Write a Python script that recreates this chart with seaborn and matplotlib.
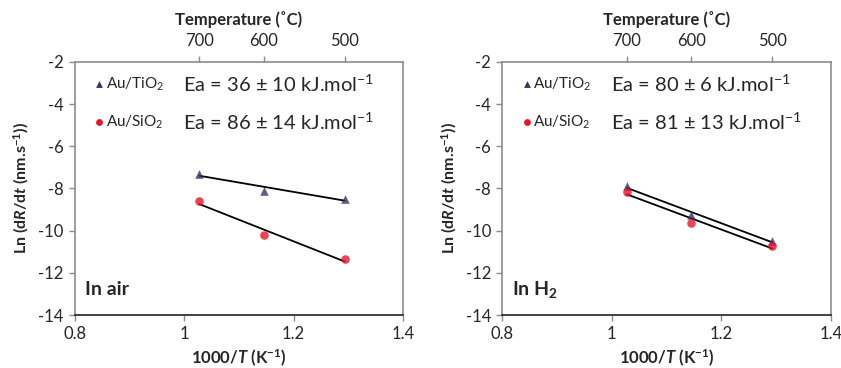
import numpy as np
import pandas as pd
import matplotlib
matplotlib.use("Agg")
import matplotlib.pyplot as plt
import seaborn as sns

# temperatures (degC) of the three measurements
temps_c = [700, 600, 500]
inv_t = [1000.0 / (t + 273.15) for t in temps_c]

# ln(dR/dt)
air_tio2 = [-7.3, -8.1, -8.5]
air_sio2 = [-8.6, -10.2, -11.35]
h2_tio2 = [-7.9, -9.25, -10.5]
h2_sio2 = [-8.15, -9.65, -10.75]

ea_air = ["Ea = 36 ± 10 kJ.mol$^{-1}$", "Ea = 86 ± 14 kJ.mol$^{-1}$"]
ea_h2 = ["Ea = 80 ± 6 kJ.mol$^{-1}$", "Ea = 81 ± 13 kJ.mol$^{-1}$"]
panel_labels = ["In air", "In H$_\\mathbf{2}$"]
series_names = ["Au/TiO$_2$", "Au/SiO$_2$"]

TRI_COLOR = "#3d2f5e"
DOT_COLOR = "#e8142a"
GRID_GRAY = "#8c8c8c"

sns.set_style("white")
plt.rcParams["font.family"] = ["Lato", "DejaVu Sans"]
plt.rcParams["axes.unicode_minus"] = False
plt.rcParams["mathtext.fontset"] = "custom"
plt.rcParams["mathtext.rm"] = "Lato"
plt.rcParams["mathtext.it"] = "Lato:italic:bold"
plt.rcParams["mathtext.bf"] = "Lato:bold"

fig = plt.figure(figsize=(8.41, 3.68), dpi=100)
ax1 = fig.add_axes([0.089, 0.144, 0.390, 0.688])
ax2 = fig.add_axes([0.597, 0.144, 0.391, 0.688])


def draw_panel(ax, tio2, sio2, ea_texts, label):
    for y, marker, color in [(tio2, "^", TRI_COLOR), (sio2, "o", DOT_COLOR)]:
        df = pd.DataFrame({"x": inv_t, "y": y})
        sns.regplot(data=df, x="x", y="y", ax=ax, ci=None, truncate=True,
                    marker=marker,
                    scatter_kws={"s": 38, "color": color, "zorder": 3, "linewidths": 0},
                    line_kws={"color": "black", "lw": 1.3, "zorder": 2})

    ax.set_xlim(0.8, 1.4)
    ax.set_ylim(-14, -2)
    ax.set_xticks([0.8, 1.0, 1.2, 1.4])
    ax.set_xticklabels(["0.8", "1", "1.2", "1.4"])
    ax.set_yticks(np.arange(-14, -1, 2))
    ax.set_xlabel("1000/$T$ (K$^\\mathbf{-1}$)", fontsize=12, fontweight="bold", labelpad=4)
    ax.set_ylabel("Ln (d$R$/d$t$ (nm.s$^\\mathbf{-1}$))", fontsize=11.5, fontweight="bold", labelpad=5)
    ax.tick_params(axis="both", labelsize=12, length=4, width=1, color=GRID_GRAY,
                   direction="out", bottom=True, left=True, pad=4)
    for side in ["left", "right", "top"]:
        ax.spines[side].set_color(GRID_GRAY)
        ax.spines[side].set_linewidth(1.2)
    ax.spines["bottom"].set_color("#222222")
    ax.spines["bottom"].set_linewidth(1.2)

    # top axis with temperatures
    top = ax.secondary_xaxis("top", functions=(lambda x: x, lambda x: x))
    top.set_xticks(inv_t)
    top.set_xticklabels([str(t) for t in temps_c])
    top.tick_params(labelsize=12, length=4, width=1, color=GRID_GRAY, pad=5)
    top.spines["top"].set_visible(False)
    top.set_xlabel("Temperature (˚C)", fontsize=12, fontweight="bold", labelpad=6)

    # legend-like annotations
    for i, (name, marker, color) in enumerate([(series_names[0], "^", TRI_COLOR),
                                               (series_names[1], "o", DOT_COLOR)]):
        yy = [0.913, 0.763][i]
        ax.scatter([0.075], [yy], transform=ax.transAxes, marker=marker, s=24,
                   color=color, linewidths=0, clip_on=False)
        ax.text(0.095, yy, name, transform=ax.transAxes, fontsize=11, va="center")
        ax.text(0.33, yy, ea_texts[i], transform=ax.transAxes, fontsize=14.5, va="center")

    ax.text(0.03, 0.10, label, transform=ax.transAxes, fontsize=14,
            fontweight="bold", va="center")


draw_panel(ax1, air_tio2, air_sio2, ea_air, panel_labels[0])
draw_panel(ax2, h2_tio2, h2_sio2, ea_h2, panel_labels[1])

fig.savefig("out.png", dpi=100, facecolor="white")
